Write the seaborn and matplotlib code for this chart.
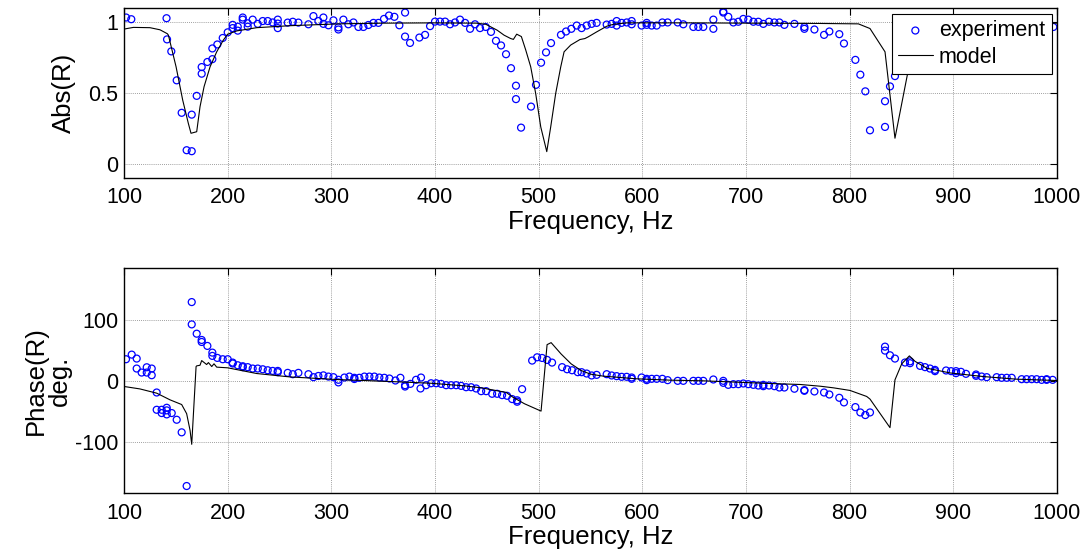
import numpy as np
import pandas as pd
import seaborn as sns
import matplotlib
matplotlib.use("Agg")
import matplotlib.pyplot as plt

abs_freq = [102, 107, 141, 141.5, 145.6, 150.8, 155.6, 160.4, 165.3, 165.3, 170.1, 174.9, 174.9,
            180.4, 185.2, 185.2, 190, 195.2, 200, 204.8, 204.8, 209.7, 209.7, 214.5, 214.5, 219.3,
            219.3, 224.1, 229, 233.8, 238.6, 243.4, 248.3, 248.3, 248.3, 257.9, 262.8, 268.2, 277.9,
            282.7, 287.5, 292.3, 292.3, 297.2, 302, 306.8, 306.8, 311.6, 316.4, 321.3, 326.1, 330.9,
            335.7, 340.6, 345.4, 350.8, 355.6, 360.8, 365.6, 371.1, 371.1, 375.9, 384.9, 390.4, 395.2,
            400, 404.8, 409.7, 414.5, 419.3, 424.1, 429, 433.8, 438.6, 443.4, 448.9, 454, 458.8, 463.7,
            468.5, 473.3, 478.1, 478.1, 483, 492.6, 497.4, 502.3, 507.1, 511.9, 521.5, 526.4, 531.5,
            536.7, 541.4, 546.3, 551.1, 555.9, 565.6, 570.4, 575.2, 575.2, 580, 584.9, 589.7, 589.7,
            599.3, 604.2, 604.2, 609, 613.8, 619.3, 624.4, 634.1, 639.5, 649.2, 654, 658.8, 668.5,
            668.5, 678.1, 678.1, 682.9, 687.8, 692.6, 697.4, 702.2, 707.1, 711.9, 716.7, 722.2, 727.4,
            732.2, 737, 746.7, 756.3, 756.3, 766, 775.3, 780.4, 790, 794.5, 805.5, 810.3, 815.1, 819.6,
            834.1, 834.1, 838.9, 843.7, 853.4, 858.2, 867.9, 877.5, 893, 912, 932, 956, 980, 996.5]
abs_exp = [1.035, 1.023, 1.03, 0.88, 0.795, 0.59, 0.36, 0.095, 0.088, 0.347, 0.48, 0.684, 0.637,
           0.72, 0.74, 0.816, 0.844, 0.89, 0.93, 0.983, 0.96, 0.942, 0.97, 1.035, 1.02, 0.994,
           0.97, 1.02, 0.99, 1.01, 1.01, 1.0, 1.02, 0.992, 0.96, 0.999, 1.005, 0.999, 0.987,
           1.045, 1.01, 1.035, 0.99, 0.98, 1.015, 0.965, 0.95, 1.02, 0.987, 1.0, 0.968, 0.968,
           0.982, 0.997, 0.997, 1.025, 1.049, 1.04, 0.98, 1.07, 0.9, 0.855, 0.893, 0.912, 0.974,
           1.006, 1.006, 1.006, 0.987, 1.0, 1.02, 0.997, 0.955, 0.987, 0.96, 0.968, 0.933, 0.87, 0.837,
           0.775, 0.676, 0.552, 0.457, 0.255, 0.404, 0.558, 0.715, 0.788, 0.854, 0.912, 0.936, 0.955,
           0.978, 0.96, 0.978, 0.99, 0.997, 0.985, 0.99, 1.01, 0.978, 0.997, 1.0, 1.01, 0.987,
           0.978, 0.997, 0.983, 0.978, 0.978, 1.0, 1.0, 1.0, 0.987, 0.968, 0.968, 0.968, 1.02,
           0.955, 1.077, 1.07, 1.04, 1.0, 1.005, 1.025, 1.02, 1.005, 1.005, 0.99, 1.005, 1.0,
           1.0, 0.983, 0.99, 0.968, 0.955, 0.95, 0.912, 0.936, 0.917, 0.851, 0.735, 0.63, 0.512, 0.236,
           0.442, 0.26, 0.547, 0.62, 0.75, 0.82, 0.9, 0.94, 0.97, 0.98, 0.99, 1.0, 0.99, 0.968]

# model magnitude
abs_model_freq = [100, 109, 125, 134.7, 141.8, 142.8, 150.2, 156.6, 162, 164.6, 170.1, 173.3, 177.2,
                  183, 189.4, 195.8, 200, 208.7, 228, 260.1, 306.8, 350, 400, 440, 449, 460, 466.6,
                  473, 475.6, 478.8, 483.3, 487.5, 492.3, 497.1, 502, 507.8, 511.6, 516.4, 521.3,
                  524.5, 530.9, 539.8, 544.6, 547.8, 555.9, 565.6, 572, 585, 650, 700, 770, 808.4,
                  819.6, 834.1, 843.7, 855.6, 862, 872, 890, 950, 1000]
abs_model = [0.953, 0.965, 0.963, 0.948, 0.92, 0.91, 0.686, 0.45, 0.286, 0.215, 0.226, 0.403, 0.545,
             0.686, 0.792, 0.875, 0.917, 0.94, 0.963, 0.977, 0.99, 0.995, 0.997, 0.995, 0.987, 0.945, 0.91,
             0.886, 0.88, 0.917, 0.9, 0.805, 0.686, 0.497, 0.26, 0.085, 0.26, 0.497, 0.686,
             0.792, 0.84, 0.879, 0.886, 0.898, 0.933, 0.973, 0.987, 0.997, 0.997, 0.995, 0.993, 0.99,
             0.957, 0.792, 0.18, 0.627, 0.85, 0.94, 0.975, 0.99, 0.995]

# measured phase, degrees
phase_freq = [101.9, 107.4, 112.2, 112.2, 117, 121.9, 121.9, 126.7, 126.7, 131.5, 131.5, 136.3, 136.3,
              141.2, 141.2, 141.2, 146, 150.8, 155.6, 160.4, 165.3, 165.3, 170.1, 174.9, 174.9, 180.4,
              185.2, 185.2, 190, 195.2, 200, 204.8, 204.8, 209.7, 214.5, 214.5, 219.3, 224.1, 229,
              233.8, 238.6, 243.4, 248.3, 248.3, 257.9, 262.8, 268.2, 277.9, 282.7, 287.5, 292.3, 297.2,
              302, 306.8, 306.8, 312.6, 317.4, 322.2, 322.2, 327, 331.9, 336.7, 341.5, 346.3, 351.1, 356,
              361.8, 366.6, 371.1, 371.1, 376.2, 381.7, 386.5, 386, 391.4, 396.2, 401.1, 405.9, 410.7,
              415.5, 420.4, 425.2, 430, 434.8, 439.7, 444.5, 449.3, 455.1, 459.9, 464.7, 469.5, 474.4,
              479.2, 479.2, 484, 493.7, 498.5, 503.3, 508.1, 512.9, 522.6, 527.4, 532.2, 537.7, 541.4,
              546.3, 551.1, 555.9, 565.6, 570.4, 575.2, 580, 584.9, 589.7, 589.7, 599.3, 604.2, 604.2,
              609, 613.8, 619.3, 624.4, 634.1, 639.5, 649.2, 654, 658.8, 668.5, 678.1, 678.1, 682.9,
              687.8, 692.6, 697.4, 702.2, 707.1, 711.9, 716.7, 716.7, 722.2, 727.4, 732.2, 737, 746.7,
              756.3, 756.3, 766, 775.3, 780.4, 790, 794.5, 805.5, 810.3, 815.1, 819.6, 834.1, 834.1,
              838.9, 843.7, 853.4, 858.2, 858.2, 867.9, 872.7, 877.5, 882.3, 882.3, 893, 897.8, 902.6,
              902.6, 907.4, 912.2, 921.9, 921.9, 927.3, 932.2, 941.8, 946.6, 951.5, 956.3, 965.9, 970.7,
              975.6, 980.4, 985.2, 990, 990, 995.8]
phase_exp = [35.5, 43.1, 36.6, 20.2, 13.6, 22.3, 13.6, 20.2, 9.2, -19.2, -47.6, -47.6, -53,
             -44.3, -48.6, -55.2, -53, -64, -84.7, -173, 129.5, 92.8, 77.5, 67.2, 63.9, 57.4,
             46.4, 41, 37.7, 35.5, 35.5, 30, 28.5, 25.6, 24, 22.5, 22.5, 20.2, 20.2,
             19, 17.4, 16.3, 16.3, 14.2, 13.1, 10.9, 13.1, 10.9, 6, 8, 9, 7,
             6, 1.7, -2.6, 5.4, 7, 5, 3, 5, 7, 7, 7, 5.4, 5, 3.8,
             0.5, 5, -7.2, -9.4, -5, 1.7, 5.4, -12.6, -7.2, -4, -4, -5, -7.2,
             -7.2, -7.2, -8.3, -10.5, -10.5, -12.6, -17, -17, -21.3, -21.3, -23.5, -24.6, -30,
             -34.4, -32, -13.7, 33.3, 38.7, 37.6, 34.4, 30, 22.5, 19, 17.4, 14.2, 14.2,
             12, 8.8, 9.8, 10.9, 8.8, 7.7, 6.6, 6.6, 5.5, 3.3, 5.5, 3.3, 1.1,
             3.3, 3.3, 3.3, 1.1, 0, 0, 0, 0, 0, 2.2, 0, -3.3, -6.6,
             -5.5, -5.5, -4.4, -5.5, -6.6, -7.7, -8.8, -6.6, -7.7, -8.8, -11, -11, -13,
             -15.3, -16.4, -17.5, -19.2, -22.5, -27.9, -35.5, -43.2, -52, -56.3, -52, 56.2, 49.7,
             42, 36.6, 30.1, 29, 32, 24.6, 22.5, 20.2, 18, 15.9, 17, 15.9, 15.9,
             12.6, 14.8, 11.5, 10.4, 8.2, 7.1, 6, 6, 5, 5, 5, 2.7, 2.7,
             2.7, 2.7, 1.6, 2.7, 1.6, 1.6]

# model phase, degrees
phase_model_freq = [100, 115.3, 131.5, 144.4, 155.6, 160.4, 163.7, 165.3, 169.5, 170.1, 173.3, 174.9,
                    179.7, 181.4, 184.6, 186.8, 189.4, 200, 211.9, 228, 260.1, 306.8, 331.9, 364.5,
                    396.2, 428.4, 444.5, 468.6, 475, 486.3, 502.3, 508.1, 512, 521.6, 531.3, 540.9,
                    550, 562.3, 594.5, 626.6, 658.8, 690.9, 723.1, 752.1, 771.3, 784.3, 800.3, 816.4,
                    819.6, 838.9, 843.7, 850.2, 857.6, 863.1, 874.3, 896.8, 929, 961.1, 1000]
phase_model = [-9.3, -13.3, -20.3, -31.3, -39, -54, -81.5, -104.4, 23.4, 24.6, 25.6, 33.3,
               26.8, 30, 23.5, 28, 22.5, 21.4, 17.4, 12, 6.4, 2, 0.5, -1.7,
               -4, -8.3, -11.5, -19, -26.8, -37.7, -49.8, 59.5, 62.8, 44.2, 27.9, 17,
               11, 7.7, 3.3, 1.1, 0, -2.2, -4.4, -6, -8.8, -11.5, -15.8, -25.7,
               -30, -77, 1.6, 27.9, 41, 32, 20.8, 13, 7, 2.7, 0.5]

x_ticks = [100, 200, 300, 400, 500, 600, 700, 800, 900, 1000]
abs_ticks = [0, 0.5, 1]
abs_tick_labels = ["0", "0.5", "1"]
phase_ticks = [-100, 0, 100]
phase_tick_labels = ["-100", "0", "100"]

sns.set_style("white")
plt.rcParams["font.family"] = ["Liberation Sans", "DejaVu Sans"]
plt.rcParams["axes.unicode_minus"] = False
plt.rcParams["text.color"] = "black"
plt.rcParams["axes.labelcolor"] = "black"

fig = plt.figure(figsize=(10.88, 5.52), dpi=100)
ax1 = fig.add_axes([0.114, 0.678, 0.8575, 0.3069])
ax2 = fig.add_axes([0.114, 0.1063, 0.8575, 0.4076])

exp_abs = pd.DataFrame({"f": abs_freq, "v": abs_exp})
mod_abs = pd.DataFrame({"f": abs_model_freq, "v": abs_model})
exp_ph = pd.DataFrame({"f": phase_freq, "v": phase_exp})
mod_ph = pd.DataFrame({"f": phase_model_freq, "v": phase_model})

for ax, ex, mo in [(ax1, exp_abs, mod_abs), (ax2, exp_ph, mod_ph)]:
    sns.scatterplot(data=ex, x="f", y="v", ax=ax, marker="o", s=25, facecolor="none",
                    edgecolor="blue", linewidth=0.9, label="experiment")
    sns.lineplot(data=mo, x="f", y="v", ax=ax, color="black", linewidth=0.8,
                 estimator=None, sort=False, label="model")
    ax.set_xlim(100, 1000)
    ax.set_xticks(x_ticks)
    ax.set_xticklabels([str(t) for t in x_ticks])
    ax.set_xlabel("Frequency, Hz", fontsize=18.5, labelpad=1, color="black")
    ax.grid(True, linestyle=(0, (1, 1.5)), color="0.5", linewidth=0.6)
    ax.set_axisbelow(True)
    ax.tick_params(direction="in", length=5, width=0.8, top=True, right=True,
                   labelsize=15.5, colors="black")
    ax.tick_params(axis="x", pad=7)
    ax.tick_params(axis="y", pad=4)
    for sp in ax.spines.values():
        sp.set_color("black")
        sp.set_linewidth(1.0)

ax1.set_ylim(-0.1, 1.1)
ax1.set_yticks(abs_ticks)
ax1.set_yticklabels(abs_tick_labels)
ax1.set_ylabel("Abs(R)", fontsize=18.5, color="black")
ax1.yaxis.set_label_coords(-0.051, 0.5)

ax2.set_ylim(-185, 185)
ax2.set_yticks(phase_ticks)
ax2.set_yticklabels(phase_tick_labels)
ax2.set_ylabel("Phase(R)\ndeg.", fontsize=18.5, linespacing=1.0, color="black")
ax2.yaxis.set_label_coords(-0.056, 0.5)
ax2.get_legend().remove()

leg = ax1.legend(loc="upper right", fontsize=15.5, frameon=True, fancybox=False,
                 borderaxespad=0.25, handlelength=1.6, handletextpad=0.3,
                 labelspacing=0.25, borderpad=0.3)
leg.get_frame().set_edgecolor("black")
leg.get_frame().set_linewidth(0.8)
leg.get_frame().set_alpha(1)
for t in leg.get_texts():
    t.set_color("black")

fig.savefig("out.png", dpi=100)
